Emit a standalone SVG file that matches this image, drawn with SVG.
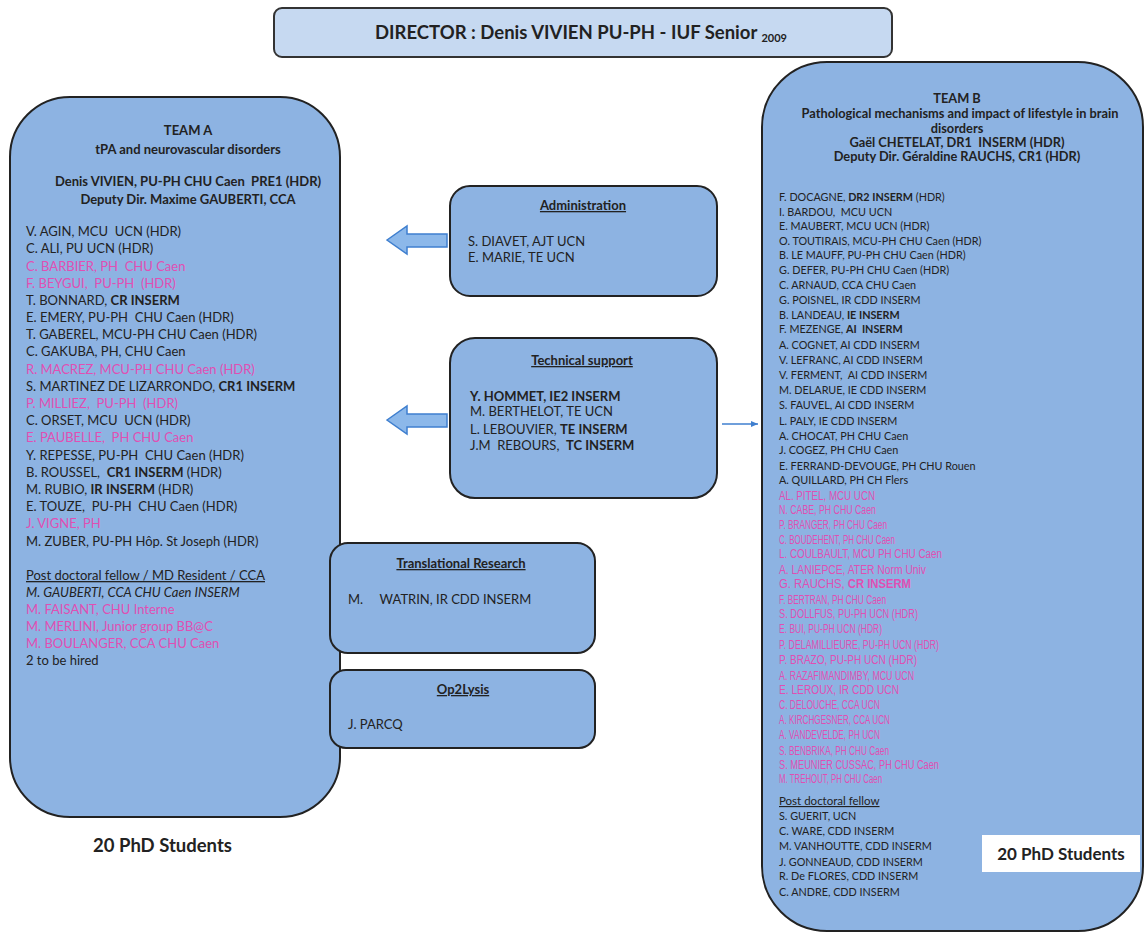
<svg xmlns="http://www.w3.org/2000/svg" width="1147" height="934" viewBox="0 0 1147 934">
<defs>
<style>
.box{fill:#8db3e2;stroke:#222;stroke-width:2}
.dir{fill:#c6d9f1;stroke:#333;stroke-width:2}
text{font-family:Lato,"Liberation Sans",sans-serif;fill:#222;white-space:pre}
.h{font-weight:bold;font-size:13px}
.l{font-size:13px}
.lb{font-size:10.8px}
.hb{font-size:12.8px;font-weight:bold;text-anchor:middle}
text.p{fill:#e04fb3}
text.n{font-family:"Liberation Sans",Arimo,sans-serif;font-size:12px;fill:#e04fb3}
.b{font-weight:bold}
.u{text-decoration:underline}
.t{font-weight:bold;font-size:13px;text-anchor:middle;text-decoration:underline}
.c{text-anchor:middle}
.arr{fill:#8cb8ea;stroke:#3f7fcf;stroke-width:1.5}
</style>
<marker id="ah" markerWidth="8" markerHeight="8" refX="7" refY="4" orient="auto" markerUnits="userSpaceOnUse">
<path d="M0,1 L7,4 L0,7 z" fill="#3f7fcf"/>
</marker>
</defs>
<rect width="1147" height="934" fill="#fff"/>

<g id="director">
<rect class="dir" x="274" y="8" width="618" height="49" rx="8"/>
<text x="581" y="39" class="c b" style="font-size:18.5px">DIRECTOR : Denis VIVIEN PU-PH - IUF Senior <tspan style="font-size:11px" dy="3">2009</tspan></text>
</g>

<g id="teamA">
<rect class="box" x="10" y="97" width="330" height="720" rx="60"/>
<text class="h c" x="188" y="135">TEAM A</text>
<text class="h c" x="188" y="154">tPA and neurovascular disorders</text>
<text class="h c" x="188" y="186">Denis VIVIEN, PU-PH CHU Caen  PRE1 (HDR)</text>
<text class="h c" x="188" y="204">Deputy Dir. Maxime GAUBERTI, CCA</text>
<text class="l" x="26" y="236">V. AGIN, MCU  UCN (HDR)</text>
<text class="l" x="26" y="253">C. ALI, PU UCN (HDR)</text>
<text class="l p" x="26" y="271">C. BARBIER, PH  CHU Caen</text>
<text class="l p" x="26" y="288">F. BEYGUI,  PU-PH  (HDR)</text>
<text class="l" x="26" y="305">T. BONNARD, <tspan class="b">CR INSERM</tspan></text>
<text class="l" x="26" y="322">E. EMERY, PU-PH  CHU Caen (HDR)</text>
<text class="l" x="26" y="339">T. GABEREL, MCU-PH CHU Caen (HDR)</text>
<text class="l" x="26" y="356">C. GAKUBA, PH, CHU Caen</text>
<text class="l p" x="26" y="374">R. MACREZ, MCU-PH CHU Caen (HDR)</text>
<text class="l" x="26" y="391">S. MARTINEZ DE LIZARRONDO, <tspan class="b">CR1 INSERM</tspan></text>
<text class="l p" x="26" y="408">P. MILLIEZ,  PU-PH  (HDR)</text>
<text class="l" x="26" y="425">C. ORSET, MCU  UCN (HDR)</text>
<text class="l p" x="26" y="442">E. PAUBELLE,  PH CHU Caen</text>
<text class="l" x="26" y="460">Y. REPESSE, PU-PH  CHU Caen (HDR)</text>
<text class="l" x="26" y="477">B. ROUSSEL,  <tspan class="b">CR1 INSERM</tspan> (HDR)</text>
<text class="l" x="26" y="494">M. RUBIO, <tspan class="b">IR INSERM</tspan> (HDR)</text>
<text class="l" x="26" y="511">E. TOUZE,  PU-PH  CHU Caen (HDR)</text>
<text class="l p" x="26" y="528">J. VIGNE, PH</text>
<text class="l" x="26" y="546">M. ZUBER, PU-PH Hôp. St Joseph (HDR)</text>
<text class="l u" x="26" y="580">Post doctoral fellow / MD Resident / CCA</text>
<text class="l" x="26" y="597" style="font-style:italic">M. GAUBERTI, CCA CHU Caen INSERM</text>
<text class="l p" x="26" y="614">M. FAISANT, CHU Interne</text>
<text class="l p" x="26" y="631">M. MERLINI, Junior group BB@C</text>
<text class="l p" x="26" y="648">M. BOULANGER, CCA CHU Caen</text>
<text class="l" x="26" y="665">2 to be hired</text>
<text x="93" y="852" class="b" style="font-size:18.5px">20 PhD Students</text>
</g>

<g id="teamB">
<rect class="box" x="762" y="62" width="381" height="869" rx="65"/>
<text class="hb" x="957" y="103">TEAM B</text>
<text class="hb" x="960" y="118">Pathological mechanisms and impact of lifestyle in brain</text>
<text class="hb" x="957" y="133">disorders</text>
<text class="hb" x="957" y="147">Gaël CHETELAT, DR1  INSERM (HDR)</text>
<text class="hb" x="957" y="161">Deputy Dir. Géraldine RAUCHS, CR1 (HDR)</text>
<text class="lb" x="779" y="201">F. DOCAGNE, <tspan class="b">DR2 INSERM</tspan> (HDR)</text>
<text class="lb" x="779" y="216">I. BARDOU,  MCU UCN</text>
<text class="lb" x="779" y="230">E. MAUBERT, MCU UCN (HDR)</text>
<text class="lb" x="779" y="245">O. TOUTIRAIS, MCU-PH CHU Caen (HDR)</text>
<text class="lb" x="779" y="259">B. LE MAUFF, PU-PH CHU Caen (HDR)</text>
<text class="lb" x="779" y="274">G. DEFER, PU-PH CHU Caen (HDR)</text>
<text class="lb" x="779" y="289">C. ARNAUD, CCA CHU Caen</text>
<text class="lb" x="779" y="304">G. POISNEL, IR CDD INSERM</text>
<text class="lb" x="779" y="319">B. LANDEAU, <tspan class="b">IE INSERM</tspan></text>
<text class="lb" x="779" y="333">F. MEZENGE, <tspan class="b">AI  INSERM</tspan></text>
<text class="lb" x="779" y="349">A. COGNET, AI CDD INSERM</text>
<text class="lb" x="779" y="364">V. LEFRANC, AI CDD INSERM</text>
<text class="lb" x="779" y="379">V. FERMENT,  AI CDD INSERM</text>
<text class="lb" x="779" y="394">M. DELARUE, IE CDD INSERM</text>
<text class="lb" x="779" y="409">S. FAUVEL, AI CDD INSERM</text>
<text class="lb" x="779" y="425">L. PALY, IE CDD INSERM</text>
<text class="lb" x="779" y="440">A. CHOCAT, PH CHU Caen</text>
<text class="lb" x="779" y="454">J. COGEZ, PH CHU Caen</text>
<text class="lb" x="779" y="470">E. FERRAND-DEVOUGE, PH CHU Rouen</text>
<text class="lb" x="779" y="484">A. QUILLARD, PH CH Flers</text>
<text class="n" x="779" y="500" textLength="96" lengthAdjust="spacingAndGlyphs">AL. PITEL, MCU UCN</text>
<text class="n" x="779" y="514" textLength="97" lengthAdjust="spacingAndGlyphs">N. CABE, PH CHU Caen</text>
<text class="n" x="779" y="529" textLength="108" lengthAdjust="spacingAndGlyphs">P. BRANGER, PH CHU Caen</text>
<text class="n" x="779" y="544" textLength="116" lengthAdjust="spacingAndGlyphs">C. BOUDEHENT, PH CHU Caen</text>
<text class="n" x="779" y="558" textLength="163" lengthAdjust="spacingAndGlyphs">L. COULBAULT, MCU PH CHU Caen</text>
<text class="n" x="779" y="574" textLength="147" lengthAdjust="spacingAndGlyphs">A. LANIEPCE, ATER Norm Univ</text>
<text class="n" x="779" y="588" textLength="132" lengthAdjust="spacingAndGlyphs">G. RAUCHS, <tspan class="b">CR INSERM</tspan></text>
<text class="n" x="779" y="604" textLength="107" lengthAdjust="spacingAndGlyphs">F. BERTRAN, PH CHU Caen</text>
<text class="n" x="779" y="618" textLength="139" lengthAdjust="spacingAndGlyphs">S. DOLLFUS, PU-PH UCN (HDR)</text>
<text class="n" x="779" y="633" textLength="103" lengthAdjust="spacingAndGlyphs">E. BUI, PU-PH UCN (HDR)</text>
<text class="n" x="779" y="649" textLength="160" lengthAdjust="spacingAndGlyphs">P. DELAMILLIEURE, PU-PH UCN (HDR)</text>
<text class="n" x="779" y="664" textLength="138" lengthAdjust="spacingAndGlyphs">P. BRAZO, PU-PH UCN (HDR)</text>
<text class="n" x="779" y="680" textLength="135" lengthAdjust="spacingAndGlyphs">A. RAZAFIMANDIMBY, MCU UCN</text>
<text class="n" x="779" y="694" textLength="120" lengthAdjust="spacingAndGlyphs">E. LEROUX, IR CDD UCN</text>
<text class="n" x="779" y="709" textLength="101" lengthAdjust="spacingAndGlyphs">C. DELOUCHE, CCA UCN</text>
<text class="n" x="779" y="724" textLength="111" lengthAdjust="spacingAndGlyphs">A. KIRCHGESNER, CCA UCN</text>
<text class="n" x="779" y="739" textLength="101" lengthAdjust="spacingAndGlyphs">A. VANDEVELDE, PH UCN</text>
<text class="n" x="779" y="755" textLength="110" lengthAdjust="spacingAndGlyphs">S. BENBRIKA, PH CHU Caen</text>
<text class="n" x="779" y="769" textLength="160" lengthAdjust="spacingAndGlyphs">S. MEUNIER CUSSAC, PH CHU Caen</text>
<text class="n" x="779" y="783" textLength="103" lengthAdjust="spacingAndGlyphs">M. TREHOUT, PH CHU Caen</text>
<text class="lb u" x="779" y="805" style="font-size:11.5px">Post doctoral fellow</text>
<text class="lb" x="779" y="820">S. GUERIT, UCN</text>
<text class="lb" x="779" y="835">C. WARE, CDD INSERM</text>
<text class="lb" x="779" y="850">M. VANHOUTTE, CDD INSERM</text>
<text class="lb" x="779" y="866">J. GONNEAUD, CDD INSERM</text>
<text class="lb" x="779" y="880">R. De FLORES, CDD INSERM</text>
<text class="lb" x="779" y="896">C. ANDRE, CDD INSERM</text>
<rect x="982" y="835" width="158" height="37" fill="#fff"/>
<text x="1061" y="860" class="c b" style="font-size:17px">20 PhD Students</text>
</g>

<g id="administration">
<rect class="box" x="450" y="186" width="267" height="110" rx="20"/>
<text class="t" x="583" y="210">Administration</text>
<text class="l" x="468" y="246">S. DIAVET, AJT UCN</text>
<text class="l" x="468" y="262">E. MARIE, TE UCN</text>
</g>

<g id="technical">
<rect class="box" x="450" y="338" width="267" height="160" rx="25"/>
<text class="t" x="582" y="365">Technical support</text>
<text class="l b" x="470" y="401">Y. HOMMET, IE2 INSERM</text>
<text class="l" x="470" y="416">M. BERTHELOT, TE UCN</text>
<text class="l" x="470" y="434">L. LEBOUVIER, <tspan class="b">TE INSERM</tspan></text>
<text class="l" x="470" y="450">J.M  REBOURS,  <tspan class="b">TC INSERM</tspan></text>
</g>

<g id="translational">
<rect class="box" x="330" y="543" width="265" height="110" rx="18"/>
<text class="t" x="461" y="568">Translational Research</text>
<text class="l" x="348" y="604">M.     WATRIN, IR CDD INSERM</text>
</g>

<g id="op2lysis">
<rect class="box" x="330" y="670" width="265" height="78" rx="16"/>
<text class="t" x="463" y="694">Op2Lysis</text>
<text class="l" x="348" y="729">J. PARCQ</text>
</g>

<g id="connectors">
<polygon class="arr" points="387,240 407,226 407,234 447,234 447,247 407,247 407,254"/>
<polygon class="arr" points="387,420 407,406 407,414 447,414 447,427 407,427 407,434"/>
<line x1="722" y1="424" x2="758" y2="424" stroke="#3f7fcf" stroke-width="1.5" marker-end="url(#ah)"/>
</g>
</svg>
